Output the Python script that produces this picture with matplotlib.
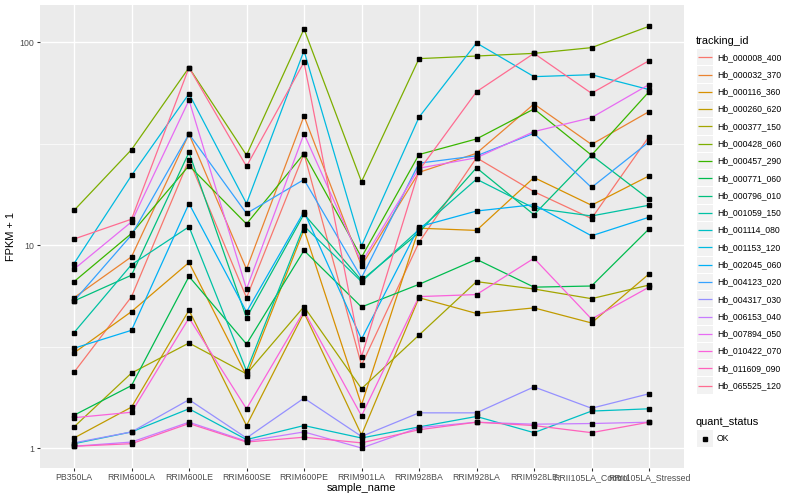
import matplotlib
matplotlib.use("Agg")
import matplotlib.pyplot as plt
from matplotlib.patches import Rectangle
from matplotlib.ticker import FixedLocator, NullFormatter

plt.rcParams['font.family'] = ['Liberation Sans', 'DejaVu Sans']

samples = ["PB350LA", "RRIM600LA", "RRIM600LE", "RRIM600SE", "RRIM600PE",
           "RRIM901LA", "RRIM928BA", "RRIM928LA", "RRIM928LE",
           "RRII105LA_Control", "RRII105LA_Stressed"]

tracking_ids = ["Hb_000008_400", "Hb_000032_370", "Hb_000116_360", "Hb_000260_620",
                "Hb_000377_150", "Hb_000428_060", "Hb_000457_290", "Hb_000771_060",
                "Hb_000796_010", "Hb_001059_150", "Hb_001114_080", "Hb_001153_120",
                "Hb_002045_060", "Hb_004123_020", "Hb_004317_030", "Hb_006153_040",
                "Hb_007894_050", "Hb_010422_070", "Hb_011609_090", "Hb_065525_120"]

# FPKM + 1 per sample
hb_000008_400 = [2.36, 5.56, 26.3, 5.5, 28.2, 2.56, 10.3, 26.9, 18.3, 13.5, 34.2]
hb_000032_370 = [5.5, 8.75, 35.2, 7.6, 43.2, 7.9, 22.8, 28.3, 49.5, 31.3, 45.4]
hb_000116_360 = [2.94, 4.7, 8.2, 2.27, 11.9, 1.63, 12.1, 11.8, 21.5, 15.7, 21.9]
hb_000260_620 = [1.12, 1.59, 4.77, 1.29, 4.64, 1.16, 5.5, 4.6, 4.9, 4.13, 7.2]
hb_000377_150 = [1.27, 2.34, 3.29, 2.32, 4.97, 1.96, 3.6, 6.6, 6.07, 5.44, 6.35]
hb_000428_060 = [14.8, 29.5, 74.8, 27.7, 115.9, 20.5, 82.8, 85.3, 87.9, 93.8, 119.5]
hb_000457_290 = [6.6, 11.4, 24.6, 12.7, 28.2, 8.7, 27.9, 33.3, 46.8, 27.7, 56.9]
hb_000771_060 = [1.45, 2.03, 7.0, 3.25, 9.4, 4.95, 6.4, 8.5, 6.2, 6.28, 12.0]
hb_000796_010 = [5.3, 7.1, 28.6, 4.38, 14.2, 6.7, 11.5, 24.0, 14.1, 27.7, 16.8]
hb_001059_150 = [3.7, 8.0, 12.3, 2.40, 12.4, 6.6, 11.9, 21.1, 15.2, 13.9, 15.7]
hb_001114_080 = [1.05, 1.20, 1.56, 1.10, 1.29, 1.12, 1.27, 1.43, 1.19, 1.52, 1.56]
hb_001153_120 = [8.1, 22.0, 55.6, 16.0, 90.6, 9.9, 42.6, 98.9, 67.5, 69.0, 58.3]
hb_002045_060 = [3.1, 3.8, 16.0, 4.68, 14.6, 3.44, 12.3, 14.7, 15.8, 11.1, 13.7]
hb_004123_020 = [5.3, 11.2, 35.2, 14.3, 21.0, 6.9, 25.3, 27.5, 35.5, 19.2, 32.2]
hb_004317_030 = [1.06, 1.20, 1.73, 1.12, 1.76, 1.14, 1.49, 1.49, 2.0, 1.57, 1.85]
hb_006153_040 = [1.02, 1.07, 1.34, 1.08, 1.20, 1.0, 1.26, 1.34, 1.31, 1.32, 1.34]
hb_007894_050 = [7.6, 13.0, 51.7, 6.07, 35.3, 8.2, 23.9, 26.9, 36.2, 42.4, 61.7]
hb_010422_070 = [1.41, 1.50, 4.37, 1.56, 4.73, 1.44, 5.57, 5.7, 8.6, 4.32, 6.2]
hb_011609_090 = [1.02, 1.05, 1.32, 1.07, 1.13, 1.06, 1.23, 1.34, 1.29, 1.19, 1.34]
hb_065525_120 = [10.7, 13.4, 74.8, 24.4, 79.6, 2.81, 23.3, 56.9, 87.9, 55.9, 80.9]

series = [hb_000008_400, hb_000032_370, hb_000116_360, hb_000260_620, hb_000377_150,
          hb_000428_060, hb_000457_290, hb_000771_060, hb_000796_010, hb_001059_150,
          hb_001114_080, hb_001153_120, hb_002045_060, hb_004123_020, hb_004317_030,
          hb_006153_040, hb_007894_050, hb_010422_070, hb_011609_090, hb_065525_120]

quant_levels = ["OK"]

palette = ["#F8766D", "#EA8331", "#D89000", "#C09B00", "#A3A500", "#7CAE00", "#39B600",
           "#00BB4E", "#00BF7D", "#00C1A3", "#00BFC4", "#00BAE0", "#00B0F6", "#35A2FF",
           "#9590FF", "#C77CFF", "#E76BF3", "#FA62DB", "#FF62BC", "#FF6C91"]

W, H = 800, 500
fig = plt.figure(figsize=(8, 5), dpi=100)
fig.patch.set_facecolor("white")

px_l, px_r, px_t, px_b = 39.5, 683.5, 5.0, 468.0
ax = fig.add_axes([px_l / W, 1 - px_b / H, (px_r - px_l) / W, (px_b - px_t) / H])
ax.set_facecolor("#EBEBEB")
for s in ax.spines.values():
    s.set_visible(False)

xs = list(range(len(samples)))
for vals, col in zip(series, palette):
    ax.plot(xs, vals, color=col, lw=0.9, zorder=2, solid_capstyle="butt")
for vals in series:
    ax.plot(xs, vals, ls="none", marker="s", ms=3.0, color="black", zorder=3)

ax.set_yscale("log")
ax.set_ylim(10 ** ((448 - 468) / 203.0), 10 ** ((448 - 5) / 203.0))
ax.set_xlim(-0.6, len(samples) - 1 + 0.6)

ax.set_yticks([1, 10, 100])
ax.set_yticklabels(["1", "10", "100"])
ax.yaxis.set_minor_locator(FixedLocator([10 ** 0.5, 10 ** 1.5]))
ax.yaxis.set_minor_formatter(NullFormatter())
ax.set_xticks(xs)
ax.set_xticklabels(samples)

ax.tick_params(axis="both", which="major", length=1.98, width=0.77, color="#333333",
               labelsize=6.3, labelcolor="#4D4D4D", pad=1.6)
ax.tick_params(axis="y", which="minor", length=0)
ax.grid(which="major", color="white", lw=1.0)
ax.grid(which="minor", axis="y", color="white", lw=0.5)
ax.set_axisbelow(True)

# overlay in pixel coordinates for titles and legend
lax = fig.add_axes([0, 0, 1, 1], zorder=5)
lax.set_xlim(0, W)
lax.set_ylim(H, 0)
lax.axis("off")
lax.patch.set_alpha(0)

lax.text((px_l + px_r) / 2, 488, "sample_name", ha="center", va="center", fontsize=7.9, color="black")
lax.text(11, (px_t + px_b) / 2, "FPKM + 1", ha="center", va="center", rotation=90, fontsize=7.9, color="black")

step = 17.28
y0 = 57.3
lax.text(696, 40.7, "tracking_id", ha="left", va="center", fontsize=7.9, color="black")
for i, (name, col) in enumerate(zip(tracking_ids, palette)):
    yc = y0 + i * step
    lax.add_patch(Rectangle((696.8, yc - step / 2 + 0.5), 16.3, step - 1.0, fc="#F2F2F2", ec="none"))
    lax.plot([698.3, 711.6], [yc, yc], color=col, lw=0.9, solid_capstyle="butt")
    lax.text(716.8, yc, name, ha="left", va="center", fontsize=6.2, color="black")

qt = 422.0
lax.text(696, qt, "quant_status", ha="left", va="center", fontsize=7.9, color="black")
for j, lev in enumerate(quant_levels):
    yc = qt + 16.6 + j * step
    lax.add_patch(Rectangle((696.8, yc - step / 2 + 0.5), 16.3, step - 1.0, fc="#F2F2F2", ec="none"))
    lax.plot([705], [yc], marker="s", ms=3.0, color="black", ls="none")
    lax.text(716.8, yc, lev, ha="left", va="center", fontsize=6.2, color="black")

fig.savefig("out.png", dpi=100)
